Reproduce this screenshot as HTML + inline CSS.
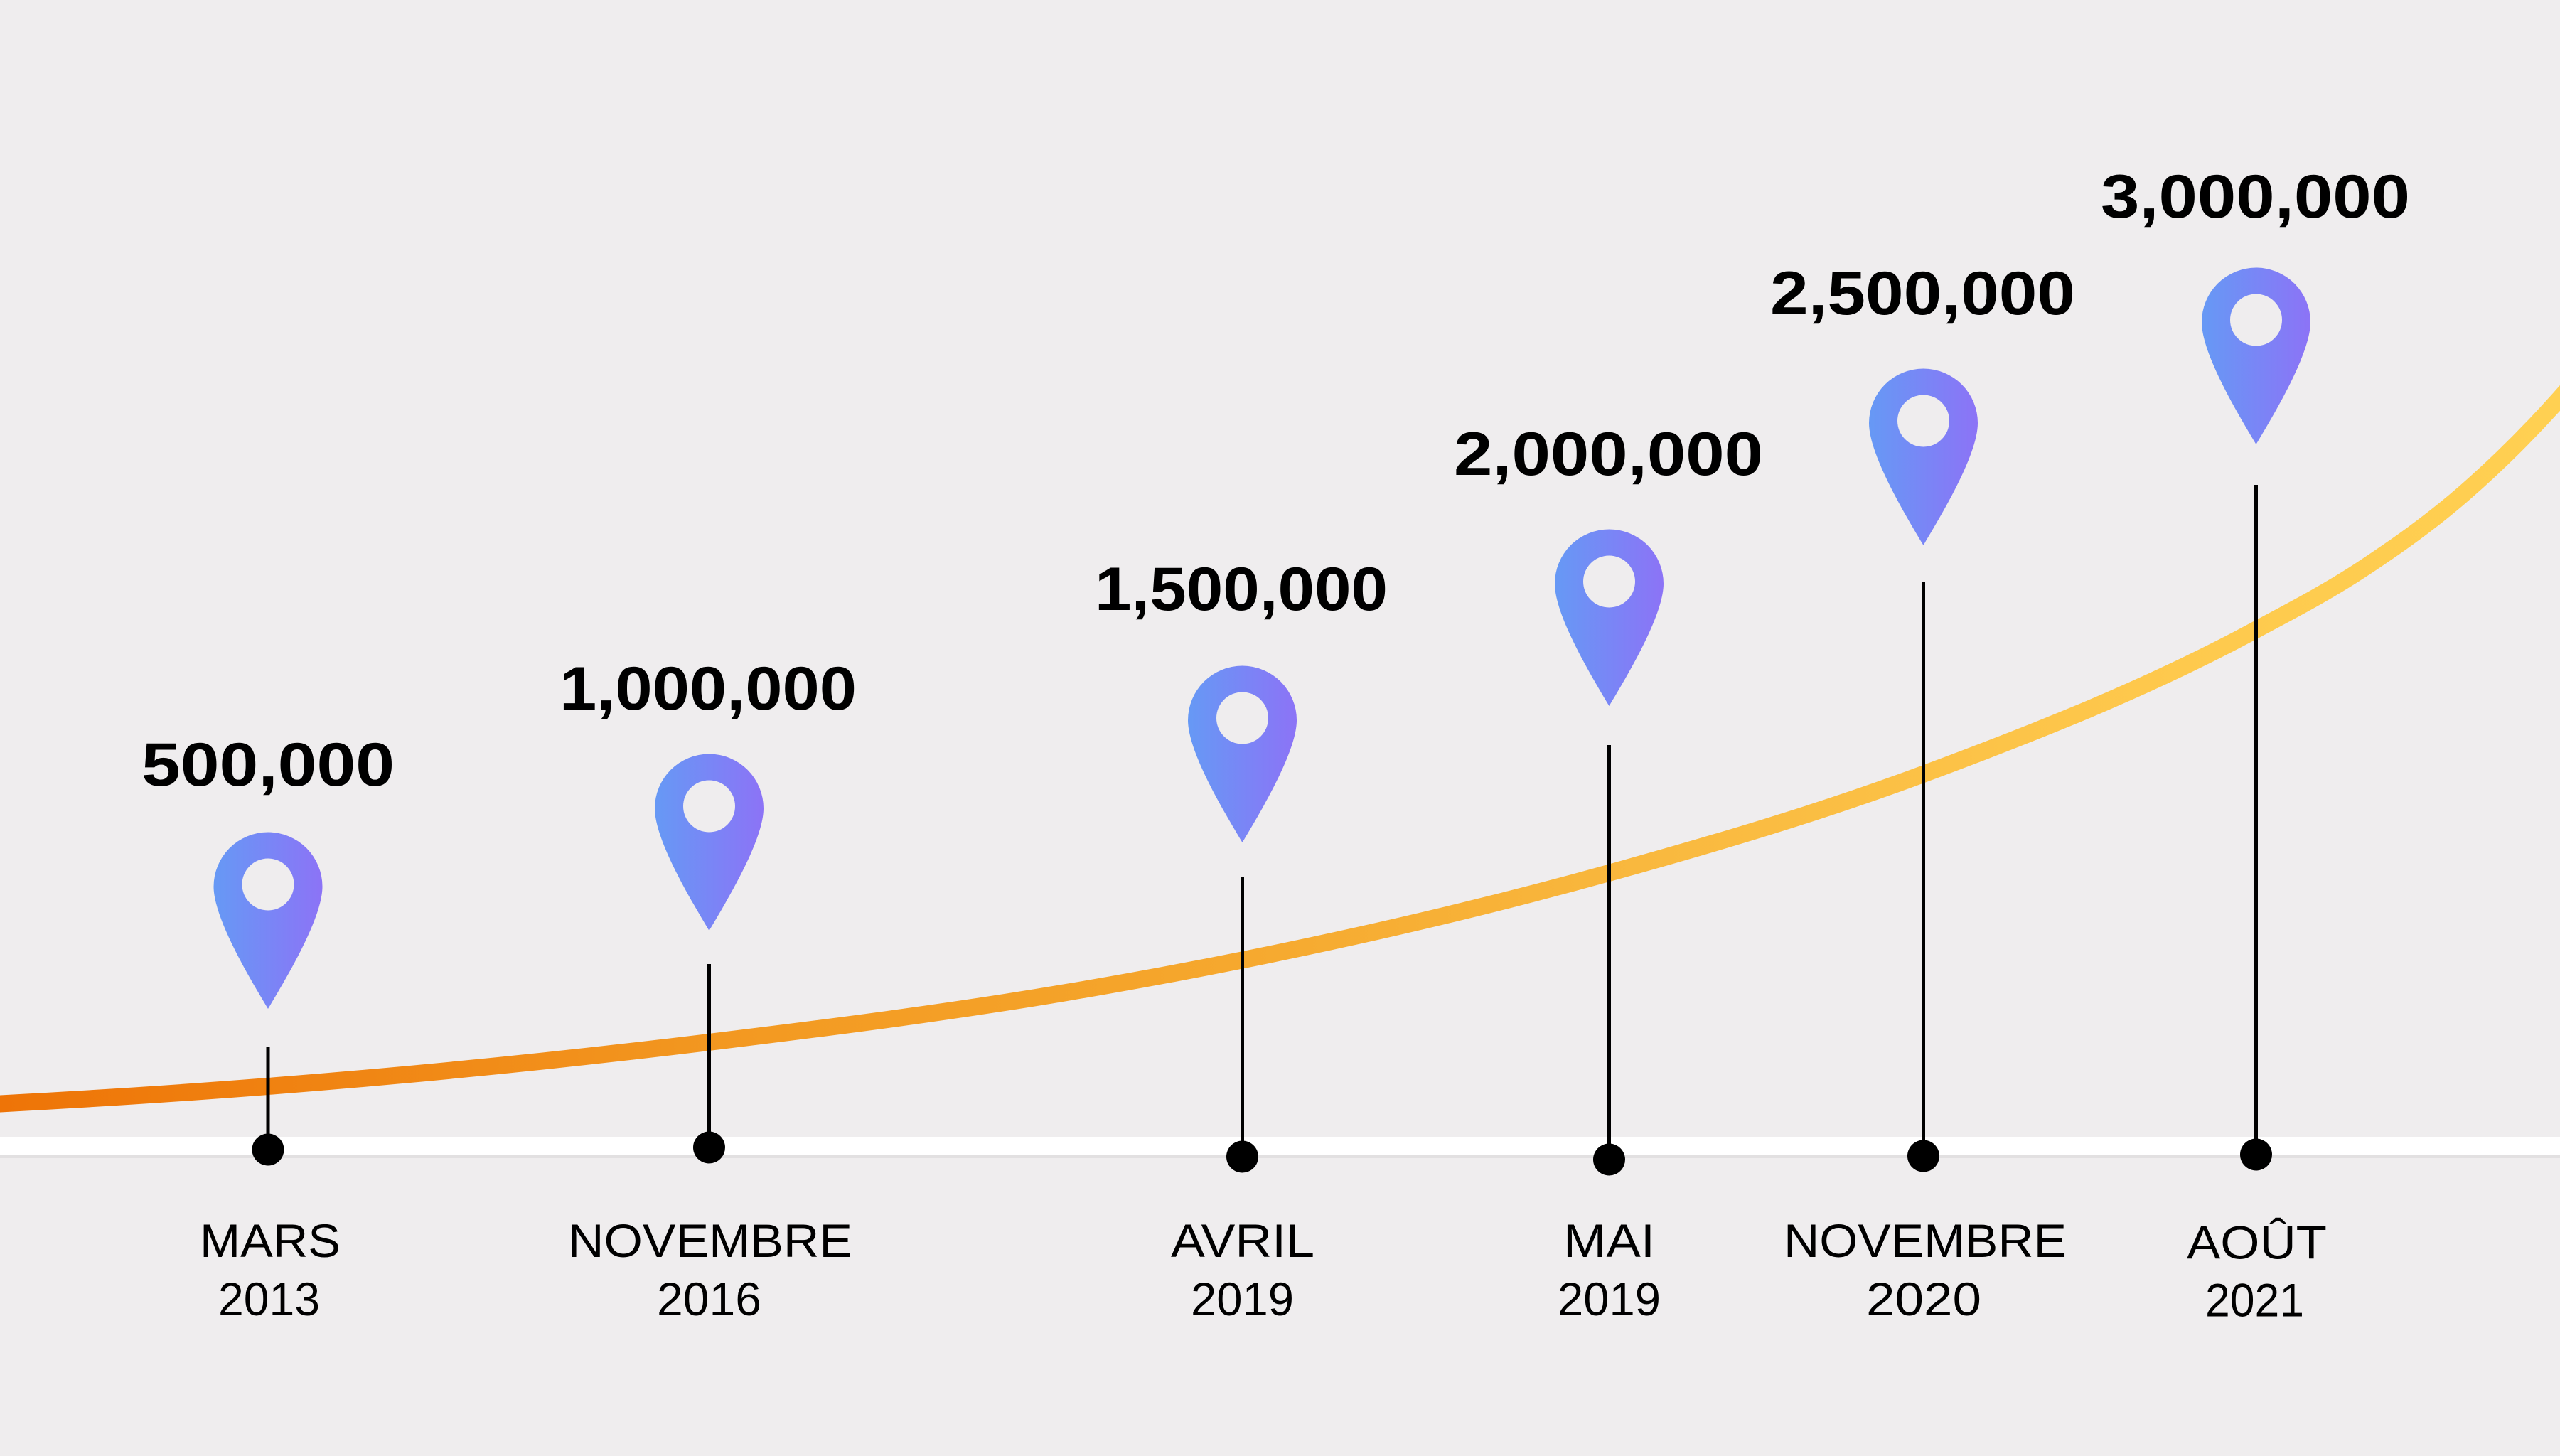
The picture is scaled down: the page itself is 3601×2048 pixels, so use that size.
<!DOCTYPE html>
<html>
<head>
<meta charset="utf-8">
<style>
  html, body { margin:0; padding:0; background:#EFEDEE; }
  body { width:3601px; height:2048px; overflow:hidden; }
  svg { display:block; }
  .val { font-family:"Liberation Sans", sans-serif; font-weight:bold; font-size:86px; fill:#000; }
  .lab { font-family:"Liberation Sans", sans-serif; font-weight:normal; font-size:66px; fill:#000; }
</style>
</head>
<body>
<svg width="3601" height="2048" viewBox="0 0 3601 2048" xmlns="http://www.w3.org/2000/svg">
  <defs>
    <linearGradient id="curveGrad" gradientUnits="userSpaceOnUse" x1="0" y1="0" x2="3601" y2="0">
      <stop offset="0" stop-color="#EE7407"/>
      <stop offset="0.3" stop-color="#F39A22"/>
      <stop offset="0.45" stop-color="#F5A52B"/>
      <stop offset="0.65" stop-color="#F9B93F"/>
      <stop offset="0.85" stop-color="#FEC94D"/>
      <stop offset="1" stop-color="#FFD052"/>
    </linearGradient>
    <linearGradient id="pinGrad" x1="0" y1="0" x2="1" y2="0">
      <stop offset="0" stop-color="#6699F5"/>
      <stop offset="1" stop-color="#8C73F6"/>
    </linearGradient>
  </defs>

  <rect x="0" y="0" width="3601" height="2048" fill="#EFEDEE"/>

  <!-- baseline band -->
  <rect x="0" y="1624" width="3601" height="5" fill="#E2E0E1"/>
  <rect x="0" y="1599" width="3601" height="25" fill="#FFFFFF"/>

  <!-- curve -->
  <path d="M -40 1554.6 L 0 1552.5
           C 125.67 1545.84 251.33 1537.8 377 1528
           C 583.67 1511.9 790.33 1491.1 997 1466
           C 1164.67 1445.6 1332.33 1424.3 1500 1396
           C 1582.33 1382.1 1664.67 1367 1747 1350.5
           C 1919 1315.9 2091 1275.9 2263 1228
           C 2410.33 1187 2557.67 1143.8 2705 1089
           C 2861 1031 3017 969.8 3173 886
           C 3222.67 859.3 3272.33 833.7 3322 801
           C 3370.33 769.1 3418.67 735.2 3467 693
           C 3511.67 654 3556.33 610 3601 560
           L 3640 516"
        fill="none" stroke="url(#curveGrad)" stroke-width="24"/>

  <!-- stems -->
  <g stroke="#000" stroke-width="5">
    <line x1="377" y1="1472" x2="377" y2="1617"/>
    <line x1="997.5" y1="1356" x2="997.5" y2="1614"/>
    <line x1="1747.5" y1="1234" x2="1747.5" y2="1627"/>
    <line x1="2263.5" y1="1048" x2="2263.5" y2="1631"/>
    <line x1="2705.5" y1="818" x2="2705.5" y2="1626"/>
    <line x1="3173.5" y1="682" x2="3173.5" y2="1624"/>
  </g>

  <!-- dots -->
  <g fill="#000">
    <circle cx="377" cy="1617" r="22.5"/>
    <circle cx="997.5" cy="1614" r="22.5"/>
    <circle cx="1747.5" cy="1627" r="22.5"/>
    <circle cx="2263.5" cy="1631" r="22.5"/>
    <circle cx="2705.5" cy="1626" r="22.5"/>
    <circle cx="3173.5" cy="1624" r="22.5"/>
  </g>

  <!-- pins -->
  <g transform="translate(377,1247)">
    <path d="M -76.5 0 A 76.5 76.5 0 0 1 76.5 0 C 76.5 45 25 130 0 172 C -25 130 -76.5 45 -76.5 0 Z" fill="url(#pinGrad)"/>
    <circle cx="0" cy="-3" r="36.5" fill="#EFEDEE"/>
  </g>
  <g transform="translate(997.5,1137)">
    <path d="M -76.5 0 A 76.5 76.5 0 0 1 76.5 0 C 76.5 45 25 130 0 172 C -25 130 -76.5 45 -76.5 0 Z" fill="url(#pinGrad)"/>
    <circle cx="0" cy="-3" r="36.5" fill="#EFEDEE"/>
  </g>
  <g transform="translate(1747.5,1013)">
    <path d="M -76.5 0 A 76.5 76.5 0 0 1 76.5 0 C 76.5 45 25 130 0 172 C -25 130 -76.5 45 -76.5 0 Z" fill="url(#pinGrad)"/>
    <circle cx="0" cy="-3" r="36.5" fill="#EFEDEE"/>
  </g>
  <g transform="translate(2263.5,821)">
    <path d="M -76.5 0 A 76.5 76.5 0 0 1 76.5 0 C 76.5 45 25 130 0 172 C -25 130 -76.5 45 -76.5 0 Z" fill="url(#pinGrad)"/>
    <circle cx="0" cy="-3" r="36.5" fill="#EFEDEE"/>
  </g>
  <g transform="translate(2705.5,595)">
    <path d="M -76.5 0 A 76.5 76.5 0 0 1 76.5 0 C 76.5 45 25 130 0 172 C -25 130 -76.5 45 -76.5 0 Z" fill="url(#pinGrad)"/>
    <circle cx="0" cy="-3" r="36.5" fill="#EFEDEE"/>
  </g>
  <g transform="translate(3173.5,453)">
    <path d="M -76.5 0 A 76.5 76.5 0 0 1 76.5 0 C 76.5 45 25 130 0 172 C -25 130 -76.5 45 -76.5 0 Z" fill="url(#pinGrad)"/>
    <circle cx="0" cy="-3" r="36.5" fill="#EFEDEE"/>
  </g>

  <!-- value labels -->
  <text class="val" x="199" y="1105" textLength="356" lengthAdjust="spacingAndGlyphs">500,000</text>
  <text class="val" x="787" y="998" textLength="418" lengthAdjust="spacingAndGlyphs">1,000,000</text>
  <text class="val" x="1540" y="858" textLength="412" lengthAdjust="spacingAndGlyphs">1,500,000</text>
  <text class="val" x="2045" y="668" textLength="435" lengthAdjust="spacingAndGlyphs">2,000,000</text>
  <text class="val" x="2490" y="442" textLength="429" lengthAdjust="spacingAndGlyphs">2,500,000</text>
  <text class="val" x="2955" y="306" textLength="435" lengthAdjust="spacingAndGlyphs">3,000,000</text>

  <!-- month labels -->
  <text class="lab" x="281" y="1768" textLength="198" lengthAdjust="spacingAndGlyphs">MARS</text>
  <text class="lab" x="799" y="1768" textLength="400" lengthAdjust="spacingAndGlyphs">NOVEMBRE</text>
  <text class="lab" x="1647" y="1768" textLength="202" lengthAdjust="spacingAndGlyphs">AVRIL</text>
  <text class="lab" x="2199" y="1768" textLength="129" lengthAdjust="spacingAndGlyphs">MAI</text>
  <text class="lab" x="2509" y="1768" textLength="398" lengthAdjust="spacingAndGlyphs">NOVEMBRE</text>
  <text class="lab" x="3076" y="1770.5" textLength="197" lengthAdjust="spacingAndGlyphs">AOÛT</text>

  <!-- year labels -->
  <text class="lab" x="307" y="1850" textLength="143" lengthAdjust="spacingAndGlyphs">2013</text>
  <text class="lab" x="924" y="1850" textLength="147" lengthAdjust="spacingAndGlyphs">2016</text>
  <text class="lab" x="1675" y="1850" textLength="145" lengthAdjust="spacingAndGlyphs">2019</text>
  <text class="lab" x="2191" y="1850" textLength="145" lengthAdjust="spacingAndGlyphs">2019</text>
  <text class="lab" x="2625" y="1850" textLength="162" lengthAdjust="spacingAndGlyphs">2020</text>
  <text class="lab" x="3102" y="1851.5" textLength="139" lengthAdjust="spacingAndGlyphs">2021</text>
</svg>
</body>
</html>
